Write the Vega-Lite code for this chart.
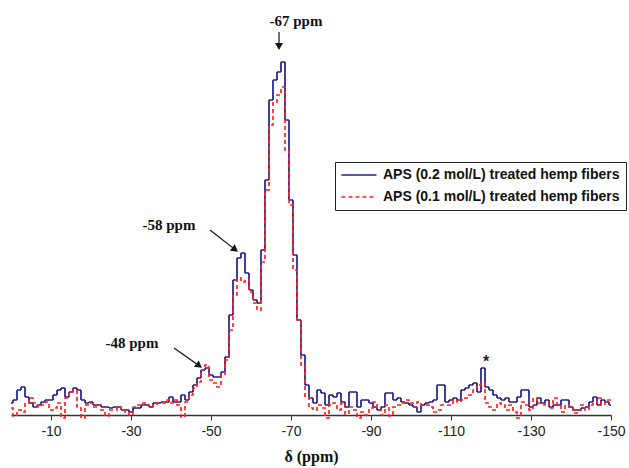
{
"$schema": "https://vega.github.io/schema/vega-lite/v6.json",
"width": 600, "height": 415,
"autosize": {"type": "none"},
"padding": {"left": 11, "top": 0, "right": 18, "bottom": 53},
"background": "white",
"config": {
  "view": {"stroke": null},
  "axis": {"domainColor": "#333", "domainWidth": 1.5, "tickColor": "#333", "tickSize": 5, "tickWidth": 1, "labelFont": "Liberation Sans", "labelFontSize": 14, "labelColor": "#222", "labelPadding": 4, "labelFlush": false, "labelOverlap": false, "titleFont": "Liberation Serif", "titleFontSize": 16, "titleFontWeight": "bold", "titleColor": "#111", "titlePadding": 10, "grid": false},
  "legend": {"orient": "none", "legendX": 324, "legendY": 162, "strokeColor": "#222", "fillColor": "white", "padding": 6, "rowPadding": 8, "labelFont": "Liberation Sans", "labelFontSize": 14, "labelFontWeight": "bold", "labelColor": "#111", "labelLimit": 400, "symbolType": "M-4,0H4", "symbolSize": 77, "symbolStrokeWidth": 1.5, "symbolOffset": 11, "labelOffset": 17}
},
"encoding": {
  "x": {"field": "ppm", "type": "quantitative", "scale": {"domain": [0, -150], "nice": false, "zero": false}, "axis": {"values": [-10, -30, -50, -70, -90, -110, -130, -150], "labelExpr": "'' + datum.value", "title": "δ (ppm)"}},
  "y": {"field": "v", "type": "quantitative", "scale": {"domain": [0, 415], "nice": false, "zero": false}, "axis": null}
},
"layer": [
  {
    "data": {"values": [
{"ppm":0,"v":12,"s":0.2},{"ppm":-1,"v":15,"s":0.2},{"ppm":-2,"v":25,"s":0.2},{"ppm":-3,"v":28,"s":0.2},{"ppm":-4,"v":18,"s":0.2},{"ppm":-5,"v":12,"s":0.2},{"ppm":-6,"v":8,"s":0.2},{"ppm":-7,"v":10,"s":0.2},{"ppm":-8,"v":13,"s":0.2},{"ppm":-9,"v":15,"s":0.2},
{"ppm":-10,"v":15,"s":0.2},{"ppm":-11,"v":20,"s":0.2},{"ppm":-12,"v":25,"s":0.2},{"ppm":-13,"v":27,"s":0.2},{"ppm":-14,"v":18,"s":0.2},{"ppm":-15,"v":23,"s":0.2},{"ppm":-16,"v":27,"s":0.2},{"ppm":-17,"v":25,"s":0.2},{"ppm":-18,"v":15,"s":0.2},{"ppm":-19,"v":12,"s":0.2},
{"ppm":-20,"v":13,"s":0.2},{"ppm":-21,"v":10,"s":0.2},{"ppm":-22,"v":10,"s":0.2},{"ppm":-23,"v":8,"s":0.2},{"ppm":-24,"v":8,"s":0.2},{"ppm":-25,"v":7,"s":0.2},{"ppm":-26,"v":8,"s":0.2},{"ppm":-27,"v":8,"s":0.2},{"ppm":-28,"v":5,"s":0.2},{"ppm":-29,"v":5,"s":0.2},
{"ppm":-30,"v":3,"s":0.2},{"ppm":-31,"v":7,"s":0.2},{"ppm":-32,"v":7,"s":0.2},{"ppm":-33,"v":10,"s":0.2},{"ppm":-34,"v":10,"s":0.2},{"ppm":-35,"v":8,"s":0.2},{"ppm":-36,"v":12,"s":0.2},{"ppm":-37,"v":12,"s":0.2},{"ppm":-38,"v":13,"s":0.2},{"ppm":-39,"v":13,"s":0.2},
{"ppm":-40,"v":18,"s":0.2},{"ppm":-41,"v":13,"s":0.2},{"ppm":-42,"v":13,"s":0.2},{"ppm":-43,"v":20,"s":0.2},{"ppm":-44,"v":15,"s":0.2},{"ppm":-45,"v":23,"s":0.2},{"ppm":-46,"v":30,"s":0.2},{"ppm":-47,"v":37,"s":0.2},{"ppm":-48,"v":45,"s":0.2},{"ppm":-49,"v":47,"s":0.2},
{"ppm":-50,"v":40,"s":0.2},{"ppm":-51,"v":38,"s":0.2},{"ppm":-52,"v":38,"s":0.2},{"ppm":-53,"v":43,"s":0.2},{"ppm":-54,"v":58,"s":0.2},{"ppm":-55,"v":100,"s":0.2},{"ppm":-56,"v":135,"s":0.2},{"ppm":-57,"v":157,"s":0.2},{"ppm":-58,"v":162,"s":0.2},{"ppm":-59,"v":142,"s":0.2},
{"ppm":-60,"v":125,"s":0.2},{"ppm":-61,"v":115,"s":0.2},{"ppm":-62,"v":112,"s":0.2},{"ppm":-63,"v":165,"s":0.2},{"ppm":-64,"v":235,"s":0.2},{"ppm":-65,"v":315,"s":0.2},{"ppm":-66,"v":335,"s":0.2},{"ppm":-67,"v":343,"s":0.2},{"ppm":-68,"v":353,"s":0.2},{"ppm":-69,"v":295,"s":0.2},
{"ppm":-70,"v":215,"s":0.2},{"ppm":-71,"v":160,"s":0.2},{"ppm":-72,"v":95,"s":0.2},{"ppm":-73,"v":60,"s":0.2},{"ppm":-74,"v":30,"s":0.2},{"ppm":-75,"v":17,"s":0.2},{"ppm":-76,"v":12,"s":0.2},{"ppm":-77,"v":25,"s":0.2},{"ppm":-78,"v":22,"s":0.2},{"ppm":-79,"v":10,"s":0.2},
{"ppm":-80,"v":20,"s":0.2},{"ppm":-81,"v":18,"s":0.2},{"ppm":-82,"v":22,"s":0.2},{"ppm":-83,"v":13,"s":0.2},{"ppm":-84,"v":8,"s":0.2},{"ppm":-85,"v":23,"s":0.2},{"ppm":-86,"v":23,"s":0.2},{"ppm":-87,"v":8,"s":0.2},{"ppm":-88,"v":15,"s":0.2},{"ppm":-89,"v":15,"s":0.2},
{"ppm":-90,"v":12,"s":0.2},{"ppm":-91,"v":8,"s":0.2},{"ppm":-92,"v":5,"s":0.2},{"ppm":-93,"v":8,"s":0.2},{"ppm":-94,"v":22,"s":0.2},{"ppm":-95,"v":22,"s":0.2},{"ppm":-96,"v":15,"s":0.2},{"ppm":-97,"v":17,"s":0.2},{"ppm":-98,"v":13,"s":0.2},{"ppm":-99,"v":12,"s":0.2},
{"ppm":-100,"v":10,"s":0.2},{"ppm":-101,"v":8,"s":0.2},{"ppm":-102,"v":3,"s":0.2},{"ppm":-103,"v":10,"s":0.2},{"ppm":-104,"v":12,"s":0.2},{"ppm":-105,"v":13,"s":0.2},{"ppm":-106,"v":15,"s":0.2},{"ppm":-107,"v":30,"s":0.2},{"ppm":-108,"v":30,"s":0.2},{"ppm":-109,"v":13,"s":0.2},
{"ppm":-110,"v":15,"s":0.2},{"ppm":-111,"v":17,"s":0.2},{"ppm":-112,"v":15,"s":0.2},{"ppm":-113,"v":25,"s":0.2},{"ppm":-114,"v":27,"s":0.2},{"ppm":-115,"v":30,"s":0.2},{"ppm":-116,"v":32,"s":0.2},{"ppm":-117,"v":23,"s":0.2},{"ppm":-118,"v":47,"s":0.2},{"ppm":-119,"v":28,"s":0.2},
{"ppm":-120,"v":25,"s":0.2},{"ppm":-121,"v":20,"s":0.2},{"ppm":-122,"v":17,"s":0.2},{"ppm":-123,"v":15,"s":0.2},{"ppm":-124,"v":17,"s":0.2},{"ppm":-125,"v":13,"s":0.2},{"ppm":-126,"v":13,"s":0.2},{"ppm":-127,"v":18,"s":0.2},{"ppm":-128,"v":25,"s":0.2},{"ppm":-129,"v":25,"s":0.2},
{"ppm":-130,"v":8,"s":0.2},{"ppm":-131,"v":10,"s":0.2},{"ppm":-132,"v":17,"s":0.2},{"ppm":-133,"v":12,"s":0.2},{"ppm":-134,"v":15,"s":0.2},{"ppm":-135,"v":8,"s":0.2},{"ppm":-136,"v":10,"s":0.2},{"ppm":-137,"v":10,"s":0.2},{"ppm":-138,"v":15,"s":0.2},{"ppm":-139,"v":15,"s":0.2},
{"ppm":-140,"v":8,"s":0.2},{"ppm":-141,"v":5,"s":0.2},{"ppm":-142,"v":5,"s":0.2},{"ppm":-143,"v":7,"s":0.2},{"ppm":-144,"v":8,"s":0.2},{"ppm":-145,"v":13,"s":0.2},{"ppm":-146,"v":18,"s":0.2},{"ppm":-147,"v":10,"s":0.2},{"ppm":-148,"v":15,"s":0.2},{"ppm":-149,"v":13,"s":0.2},{"ppm":-150,"v":10,"s":0.2},
{"ppm":0,"v":7,"s":0.1},{"ppm":-1,"v":-1,"s":0.1},{"ppm":-2,"v":5,"s":0.1},{"ppm":-3,"v":3,"s":0.1},{"ppm":-4,"v":12,"s":0.1},{"ppm":-5,"v":17,"s":0.1},{"ppm":-6,"v":12,"s":0.1},{"ppm":-7,"v":8,"s":0.1},{"ppm":-8,"v":10,"s":0.1},{"ppm":-9,"v":13,"s":0.1},
{"ppm":-10,"v":5,"s":0.1},{"ppm":-11,"v":7,"s":0.1},{"ppm":-12,"v":12,"s":0.1},{"ppm":-13,"v":-3,"s":0.1},{"ppm":-14,"v":17,"s":0.1},{"ppm":-15,"v":23,"s":0.1},{"ppm":-16,"v":25,"s":0.1},{"ppm":-17,"v":8,"s":0.1},{"ppm":-18,"v":-3,"s":0.1},{"ppm":-19,"v":10,"s":0.1},
{"ppm":-20,"v":12,"s":0.1},{"ppm":-21,"v":8,"s":0.1},{"ppm":-22,"v":10,"s":0.1},{"ppm":-23,"v":5,"s":0.1},{"ppm":-24,"v":-1,"s":0.1},{"ppm":-25,"v":5,"s":0.1},{"ppm":-26,"v":5,"s":0.1},{"ppm":-27,"v":8,"s":0.1},{"ppm":-28,"v":5,"s":0.1},{"ppm":-29,"v":3,"s":0.1},
{"ppm":-30,"v":0,"s":0.1},{"ppm":-31,"v":8,"s":0.1},{"ppm":-32,"v":10,"s":0.1},{"ppm":-33,"v":12,"s":0.1},{"ppm":-34,"v":10,"s":0.1},{"ppm":-35,"v":8,"s":0.1},{"ppm":-36,"v":10,"s":0.1},{"ppm":-37,"v":12,"s":0.1},{"ppm":-38,"v":12,"s":0.1},{"ppm":-39,"v":15,"s":0.1},
{"ppm":-40,"v":12,"s":0.1},{"ppm":-41,"v":15,"s":0.1},{"ppm":-42,"v":10,"s":0.1},{"ppm":-43,"v":-2,"s":0.1},{"ppm":-44,"v":13,"s":0.1},{"ppm":-45,"v":20,"s":0.1},{"ppm":-46,"v":27,"s":0.1},{"ppm":-47,"v":33,"s":0.1},{"ppm":-48,"v":45,"s":0.1},{"ppm":-49,"v":50,"s":0.1},
{"ppm":-50,"v":35,"s":0.1},{"ppm":-51,"v":32,"s":0.1},{"ppm":-52,"v":28,"s":0.1},{"ppm":-53,"v":40,"s":0.1},{"ppm":-54,"v":55,"s":0.1},{"ppm":-55,"v":85,"s":0.1},{"ppm":-56,"v":120,"s":0.1},{"ppm":-57,"v":137,"s":0.1},{"ppm":-58,"v":133,"s":0.1},{"ppm":-59,"v":135,"s":0.1},
{"ppm":-60,"v":123,"s":0.1},{"ppm":-61,"v":112,"s":0.1},{"ppm":-62,"v":105,"s":0.1},{"ppm":-63,"v":153,"s":0.1},{"ppm":-64,"v":225,"s":0.1},{"ppm":-65,"v":290,"s":0.1},{"ppm":-66,"v":313,"s":0.1},{"ppm":-67,"v":320,"s":0.1},{"ppm":-68,"v":328,"s":0.1},{"ppm":-69,"v":265,"s":0.1},
{"ppm":-70,"v":210,"s":0.1},{"ppm":-71,"v":145,"s":0.1},{"ppm":-72,"v":95,"s":0.1},{"ppm":-73,"v":50,"s":0.1},{"ppm":-74,"v":18,"s":0.1},{"ppm":-75,"v":7,"s":0.1},{"ppm":-76,"v":5,"s":0.1},{"ppm":-77,"v":10,"s":0.1},{"ppm":-78,"v":7,"s":0.1},{"ppm":-79,"v":-3,"s":0.1},
{"ppm":-80,"v":10,"s":0.1},{"ppm":-81,"v":12,"s":0.1},{"ppm":-82,"v":5,"s":0.1},{"ppm":-83,"v":12,"s":0.1},{"ppm":-84,"v":1,"s":0.1},{"ppm":-85,"v":8,"s":0.1},{"ppm":-86,"v":5,"s":0.1},{"ppm":-87,"v":-3,"s":0.1},{"ppm":-88,"v":3,"s":0.1},{"ppm":-89,"v":0,"s":0.1},
{"ppm":-90,"v":7,"s":0.1},{"ppm":-91,"v":13,"s":0.1},{"ppm":-92,"v":5,"s":0.1},{"ppm":-93,"v":0,"s":0.1},{"ppm":-94,"v":10,"s":0.1},{"ppm":-95,"v":-1,"s":0.1},{"ppm":-96,"v":8,"s":0.1},{"ppm":-97,"v":10,"s":0.1},{"ppm":-98,"v":12,"s":0.1},{"ppm":-99,"v":15,"s":0.1},
{"ppm":-100,"v":12,"s":0.1},{"ppm":-101,"v":8,"s":0.1},{"ppm":-102,"v":13,"s":0.1},{"ppm":-103,"v":10,"s":0.1},{"ppm":-104,"v":10,"s":0.1},{"ppm":-105,"v":8,"s":0.1},{"ppm":-106,"v":3,"s":0.1},{"ppm":-107,"v":5,"s":0.1},{"ppm":-108,"v":10,"s":0.1},{"ppm":-109,"v":10,"s":0.1},
{"ppm":-110,"v":10,"s":0.1},{"ppm":-111,"v":15,"s":0.1},{"ppm":-112,"v":13,"s":0.1},{"ppm":-113,"v":15,"s":0.1},{"ppm":-114,"v":17,"s":0.1},{"ppm":-115,"v":20,"s":0.1},{"ppm":-116,"v":25,"s":0.1},{"ppm":-117,"v":30,"s":0.1},{"ppm":-118,"v":32,"s":0.1},{"ppm":-119,"v":12,"s":0.1},
{"ppm":-120,"v":8,"s":0.1},{"ppm":-121,"v":5,"s":0.1},{"ppm":-122,"v":12,"s":0.1},{"ppm":-123,"v":10,"s":0.1},{"ppm":-124,"v":5,"s":0.1},{"ppm":-125,"v":10,"s":0.1},{"ppm":-126,"v":3,"s":0.1},{"ppm":-127,"v":-3,"s":0.1},{"ppm":-128,"v":13,"s":0.1},{"ppm":-129,"v":10,"s":0.1},
{"ppm":-130,"v":5,"s":0.1},{"ppm":-131,"v":17,"s":0.1},{"ppm":-132,"v":12,"s":0.1},{"ppm":-133,"v":10,"s":0.1},{"ppm":-134,"v":12,"s":0.1},{"ppm":-135,"v":7,"s":0.1},{"ppm":-136,"v":17,"s":0.1},{"ppm":-137,"v":10,"s":0.1},{"ppm":-138,"v":3,"s":0.1},{"ppm":-139,"v":10,"s":0.1},
{"ppm":-140,"v":7,"s":0.1},{"ppm":-141,"v":2,"s":0.1},{"ppm":-142,"v":5,"s":0.1},{"ppm":-143,"v":10,"s":0.1},{"ppm":-144,"v":5,"s":0.1},{"ppm":-145,"v":10,"s":0.1},{"ppm":-146,"v":12,"s":0.1},{"ppm":-147,"v":17,"s":0.1},{"ppm":-148,"v":10,"s":0.1},{"ppm":-149,"v":15,"s":0.1},{"ppm":-150,"v":15,"s":0.1}
    ]},
    "mark": {"type": "line", "interpolate": "step", "strokeWidth": 1.7},
    "encoding": {
      "color": {"field": "s", "type": "nominal", "scale": {"domain": [0.2, 0.1], "range": ["#1f1f85", "#ff2020"]}, "legend": {"title": null, "labelExpr": "'APS (' + datum.label + ' mol/L) treated hemp fibers'"}},
      "strokeDash": {"field": "s", "type": "nominal", "scale": {"domain": [0.2, 0.1], "range": [[1, 0], [4, 3]]}, "legend": {"title": null, "labelExpr": "'APS (' + datum.label + ' mol/L) treated hemp fibers'"}}
    }
  },
  {
    "data": {"values": [
      {"ppm": -67, "v": 383, "ppm2": -67, "v2": 369},
      {"ppm": -49.75, "v": 185, "ppm2": -55.8, "v2": 166.1},
      {"ppm": -40.75, "v": 67, "ppm2": -46.8, "v2": 50}
    ]},
    "mark": {"type": "rule", "color": "#111", "strokeWidth": 1.2},
    "encoding": {"x2": {"field": "ppm2"}, "y2": {"field": "v2"}}
  },
  {
    "data": {"values": [{"ppm": -67, "v": 368.5}]},
    "mark": {"type": "point", "shape": "triangle-down", "filled": true, "color": "#111", "opacity": 1, "size": 64},
    "encoding": {}
  },
  {
    "data": {"values": [{"ppm": -55.8, "v": 166.1}, {"ppm": -46.8, "v": 50}]},
    "mark": {"type": "point", "shape": "triangle", "angle": 127, "filled": true, "color": "#111", "opacity": 1, "size": 64},
    "encoding": {}
  },
  {
    "data": {"values": [
      {"ppm": -71.25, "v": 394, "label": "-67 ppm"},
      {"ppm": -39.5, "v": 190, "label": "-58 ppm"},
      {"ppm": -30.25, "v": 72, "label": "-48 ppm"}
    ]},
    "mark": {"type": "text", "font": "Liberation Serif", "fontSize": 15, "fontWeight": "bold", "color": "#111", "align": "center", "baseline": "middle"},
    "encoding": {"text": {"field": "label"}}
  },
  {
    "data": {"values": [{"ppm": -118.75, "v": 48, "label": "*"}]},
    "mark": {"type": "text", "font": "Liberation Sans", "fontSize": 16, "fontWeight": "bold", "color": "#222", "align": "center", "baseline": "alphabetic"},
    "encoding": {"text": {"field": "label"}}
  }
]
}
